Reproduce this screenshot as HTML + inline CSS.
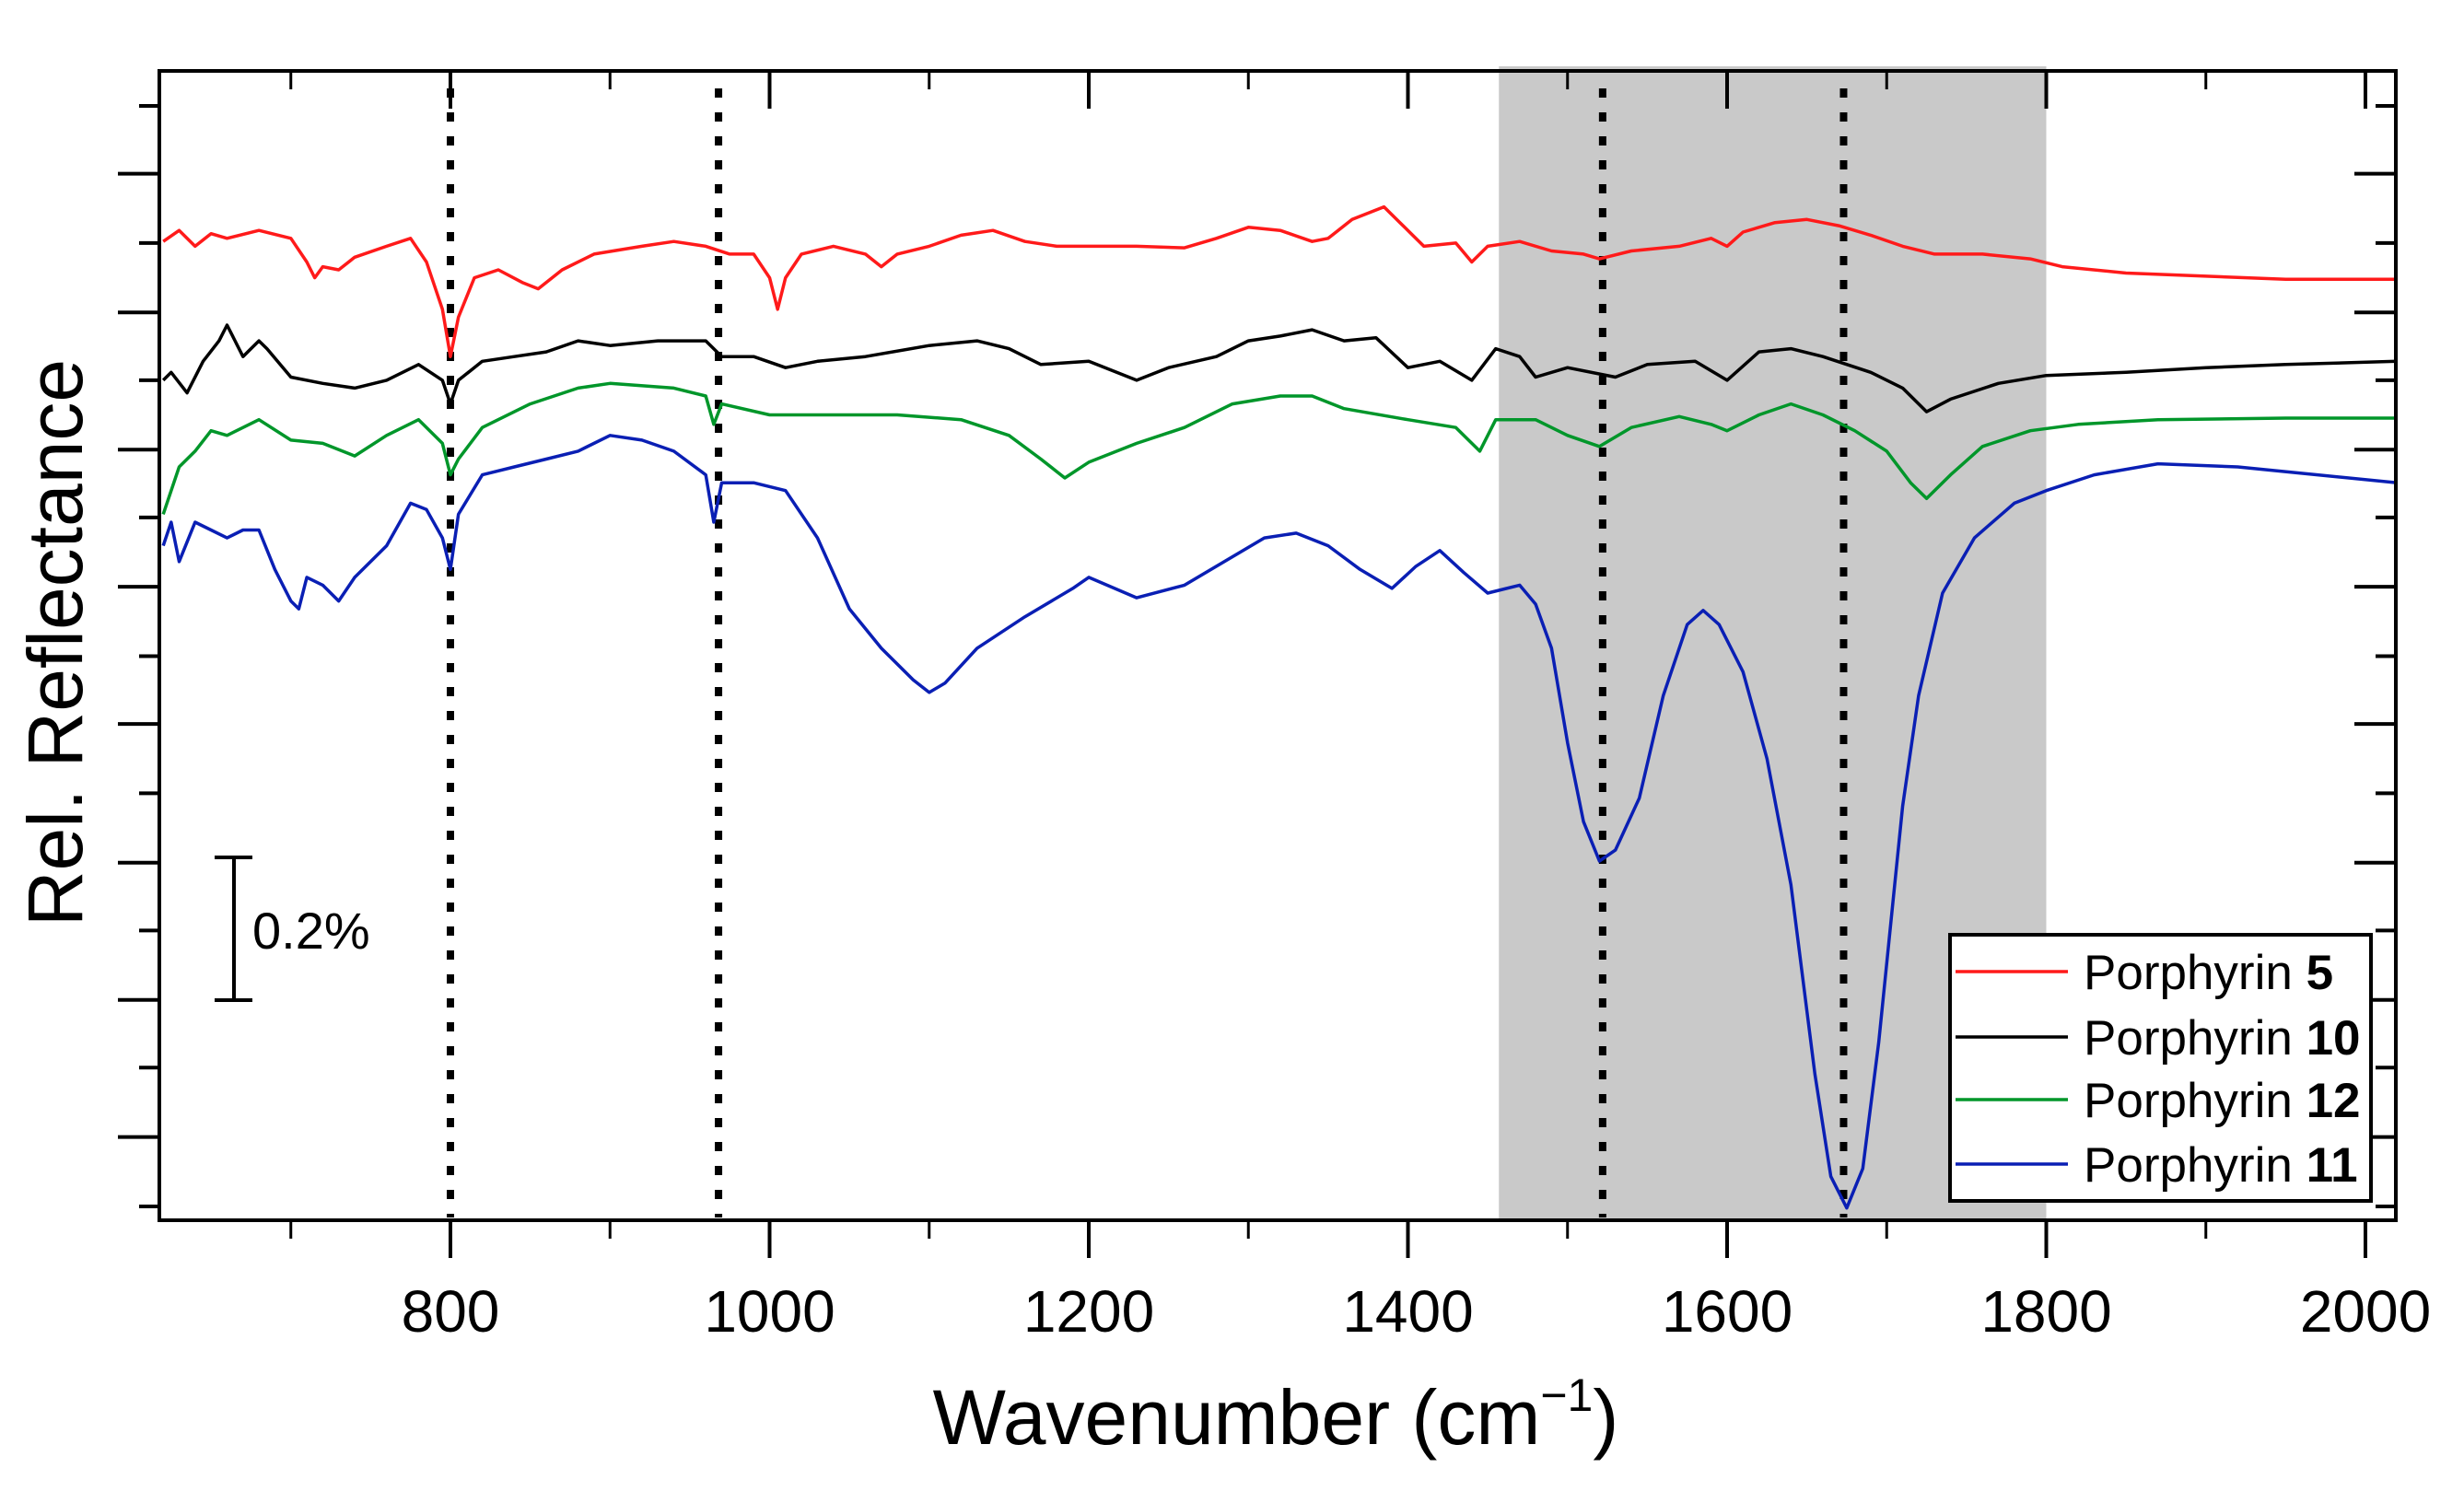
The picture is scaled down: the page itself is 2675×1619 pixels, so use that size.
<!DOCTYPE html>
<html><head><meta charset="utf-8"><style>
html,body{margin:0;padding:0;background:#fff;}
svg{display:block;font-family:"Liberation Sans",Arial,sans-serif;}
</style></head><body>
<svg id="chart" width="2675" height="1619" viewBox="0 0 2675 1619" xmlns="http://www.w3.org/2000/svg">
<g id="shade-layer"></g>
<g id="guide-layer"></g>
<g id="series-layer"></g>
<g id="axis-layer"></g>
<g id="legend-layer"></g>
</svg>
<script>
// ---- data (wavenumber in cm^-1, relative reflectance offset values, larger = lower on plot) ----
const xTickValues = [800, 1000, 1200, 1400, 1600, 1800, 2000];
const xMinorValues = [700, 900, 1100, 1300, 1500, 1700, 1900];
const yMajorValues = [109, 197, 284, 371, 458, 546, 633, 720];
const yMinorValues = [66, 153, 240, 327, 415, 502, 589, 676, 764];
const markerLines = [800, 968, 1522, 1673];
const shadeRange = [1457, 1800];
const seriesNames = ["Porphyrin ", "Porphyrin ", "Porphyrin ", "Porphyrin "];
const seriesIds = ["5", "10", "12", "11"];
const seriesColors = ["#ff1a1a", "#000000", "#00962a", "#0a1fb4"];

const wnRed = [620,630,640,650,660,680,700,710,715,720,730,740,760,775,785,795,800,805,815,830,845,855,870,890,920,940,960,975,990,1000,1005,1010,1020,1040,1060,1070,1080,1100,1120,1140,1160,1180,1200,1230,1260,1280,1300,1320,1340,1350,1365,1385,1395,1410,1430,1440,1450,1470,1490,1510,1520,1540,1570,1590,1600,1610,1630,1650,1670,1690,1710,1730,1760,1790,1810,1850,1900,1950,2020];
const valRed = [152,145,155,147,150,145,150,165,175,168,170,162,155,150,165,195,225,200,175,170,178,182,170,160,155,152,155,160,160,175,195,175,160,155,160,168,160,155,148,145,152,155,155,155,156,150,143,145,152,150,138,130,140,155,153,165,155,152,158,160,163,158,155,150,155,146,140,138,142,148,155,160,160,163,168,172,174,176,176];

const wnBlack = [620,625,635,645,655,660,670,680,685,700,720,740,760,780,795,800,805,820,840,860,880,900,930,960,970,990,1010,1030,1060,1100,1130,1150,1170,1200,1230,1250,1280,1300,1320,1340,1360,1380,1400,1420,1440,1455,1470,1480,1500,1530,1550,1580,1600,1620,1640,1660,1690,1710,1725,1740,1770,1800,1850,1900,1950,2020];
const valBlack = [240,235,248,228,215,205,225,215,220,238,242,245,240,230,240,255,240,228,225,222,215,218,215,215,225,225,232,228,225,218,215,220,230,228,240,232,225,215,212,208,215,213,232,228,240,220,225,238,232,238,230,228,240,222,220,225,235,245,260,252,242,237,235,232,230,228];

const wnGreen = [620,630,640,650,660,680,700,720,740,760,780,795,800,805,820,850,880,900,940,960,965,970,1000,1050,1080,1120,1150,1170,1185,1200,1230,1260,1290,1320,1340,1360,1400,1430,1445,1455,1480,1500,1520,1540,1570,1590,1600,1620,1640,1660,1680,1700,1715,1725,1740,1760,1790,1820,1870,1950,2020];
const valGreen = [325,295,285,272,275,265,278,280,288,275,265,280,300,290,270,255,245,242,245,250,268,255,262,262,262,265,275,290,302,292,280,270,255,250,250,258,265,270,285,265,265,275,282,270,263,268,272,262,255,262,272,285,305,315,300,282,272,268,265,264,264];

const wnBlue = [620,625,630,640,650,660,670,680,690,700,705,710,720,730,740,760,775,785,795,800,805,820,840,860,880,900,920,940,960,965,970,990,1010,1030,1050,1070,1090,1100,1110,1130,1160,1190,1200,1230,1260,1290,1310,1330,1350,1370,1390,1405,1420,1435,1450,1470,1480,1490,1500,1510,1520,1530,1545,1560,1575,1585,1595,1610,1625,1640,1655,1665,1675,1685,1695,1710,1720,1735,1755,1780,1800,1830,1870,1920,1970,2020];
const valBlue = [345,330,355,330,335,340,335,335,360,380,385,365,370,380,365,345,318,322,340,360,325,300,295,290,285,275,278,285,300,330,305,305,310,340,385,410,430,438,432,410,390,372,365,378,370,352,340,337,345,360,372,358,348,362,375,370,382,410,470,520,545,538,505,440,395,386,395,425,480,560,680,745,765,740,660,510,440,375,340,318,310,300,293,295,300,305];

const seriesWn = [wnRed, wnBlack, wnGreen, wnBlue];
const seriesVals = [valRed, valBlack, valGreen, valBlue];

// ---- axes ----
const X0 = 489, XK = 1.7325;
function xScale(w){ return X0 + (w - 800) * XK; }
function yScale(v){ return 2 + v * 1.712; }
const L = 173, R = 2601, T = 77, B = 1325;

const NS = "http://www.w3.org/2000/svg";
function mk(tag, attrs, parent){
  const e = document.createElementNS(NS, tag);
  for (const k in attrs) e.setAttribute(k, attrs[k]);
  parent.appendChild(e);
  return e;
}
const shadeLayer = document.getElementById('shade-layer');
const guideLayer = document.getElementById('guide-layer');
const seriesLayer = document.getElementById('series-layer');
const axisLayer = document.getElementById('axis-layer');
const legendLayer = document.getElementById('legend-layer');

const sh = mk('rect', {x: xScale(shadeRange[0]), y: 72, width: xScale(shadeRange[1]) - xScale(shadeRange[0]), height: B - 72, fill: '#c9c9c9'}, shadeLayer);



markerLines.forEach(function(w){
  const ln = mk('line', {x1: xScale(w), x2: xScale(w), y1: 96, y2: 1322, stroke: '#000', 'stroke-width': 8, 'stroke-dasharray': '10 16'}, guideLayer);
  
  
});

seriesWn.forEach(function(wn, i){
  const vals = seriesVals[i];
  let d = '';
  for (let j = 0; j < wn.length; j++) {
    d += (j ? 'L' : 'M') + xScale(wn[j]).toFixed(1) + ' ' + yScale(vals[j]).toFixed(1);
  }
  const p = mk('path', {d: d, fill: 'none', stroke: seriesColors[i], 'stroke-width': 3.5, 'stroke-linejoin': 'round'}, seriesLayer);
  
  
});

const fr = mk('rect', {x: L, y: T, width: R - L, height: B - T, fill: 'none', stroke: '#000', 'stroke-width': 4}, axisLayer);



xTickValues.forEach(function(w){
  const x = xScale(w);
  const t = mk('line', {x1: x, x2: x, y1: B, y2: B + 41, stroke: '#000', 'stroke-width': 4}, axisLayer);
  
  
  const t2 = mk('line', {x1: x, x2: x, y1: T, y2: T + 41, stroke: '#000', 'stroke-width': 4}, axisLayer);
  
  
  const lb = mk('text', {x: x, y: 1446, 'text-anchor': 'middle', 'font-size': 64, fill: '#000'}, axisLayer);
  lb.textContent = w;
  
  
});
xMinorValues.forEach(function(w){
  const x = xScale(w);
  const t = mk('line', {x1: x, x2: x, y1: B, y2: B + 20, stroke: '#000', 'stroke-width': 3}, axisLayer);
  
  
  const t2 = mk('line', {x1: x, x2: x, y1: T, y2: T + 20, stroke: '#000', 'stroke-width': 3}, axisLayer);
  
  
});
yMajorValues.forEach(function(v){
  const y = yScale(v);
  const t = mk('line', {x1: L - 45, x2: L, y1: y, y2: y, stroke: '#000', 'stroke-width': 4}, axisLayer);
  
  
  const t2 = mk('line', {x1: R - 45, x2: R, y1: y, y2: y, stroke: '#000', 'stroke-width': 4}, axisLayer);
  
  
});
yMinorValues.forEach(function(v){
  const y = yScale(v);
  const t = mk('line', {x1: L - 22, x2: L, y1: y, y2: y, stroke: '#000', 'stroke-width': 4}, axisLayer);
  
  
  const t2 = mk('line', {x1: R - 22, x2: R, y1: y, y2: y, stroke: '#000', 'stroke-width': 4}, axisLayer);
  
  
});

const lg = mk('rect', {x: 2117, y: 1015, width: 457, height: 289, fill: '#fff', stroke: '#000', 'stroke-width': 4}, legendLayer);


const legendY = [1055, 1126, 1194, 1264];
seriesIds.forEach(function(id, i){
  const y = legendY[i];
  const ln = mk('line', {x1: 2123, x2: 2245, y1: y, y2: y, stroke: seriesColors[i], 'stroke-width': 3.5}, legendLayer);
  
  
  const tx = mk('text', {x: 2262, y: y + 19, 'font-size': 53, fill: '#000'}, legendLayer);
  
  
  tx.appendChild(document.createTextNode(seriesNames[i]));
  const b = mk('tspan', {'font-weight': 'bold'}, tx);
  b.textContent = id;
});
</script>
<svg style="position:absolute;left:0;top:0" width="2675" height="1619" xmlns="http://www.w3.org/2000/svg" font-family="Liberation Sans, Arial, sans-serif">
  <g stroke="#000" stroke-width="4">
    <line x1="254" y1="931" x2="254" y2="1086"/>
    <line x1="233" y1="931" x2="274" y2="931"/>
    <line x1="233" y1="1086" x2="274" y2="1086"/>
  </g>
  <text x="274" y="1030" font-size="56" fill="#000">0.2%</text>
  <text x="1385" y="1568" text-anchor="middle" font-size="84" fill="#000">Wavenumber (cm<tspan font-size="50" dy="-36">−1</tspan><tspan dy="36">)</tspan></text>
  <text x="0" y="0" transform="translate(60,698) rotate(-90)" text-anchor="middle" dominant-baseline="central" font-size="84" fill="#000">Rel. Reflectance</text>
</svg>
</body></html>
